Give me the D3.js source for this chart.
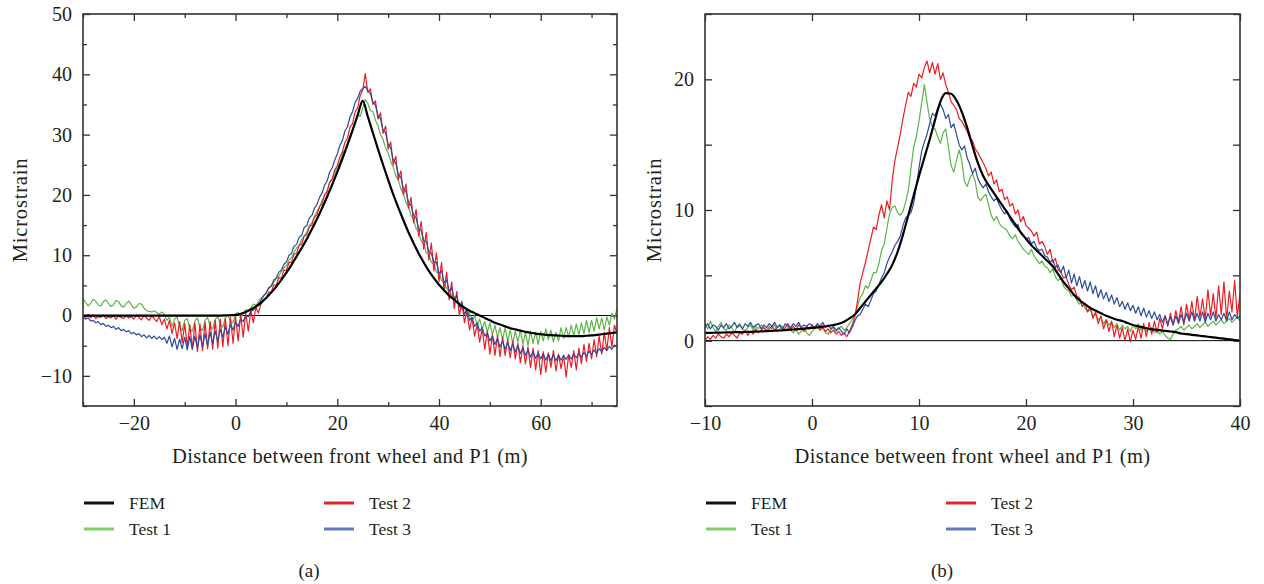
<!DOCTYPE html>
<html>
<head>
<meta charset="utf-8">
<script src="https://cdn.jsdelivr.net/npm/d3@7"></script>
<style>
  body { margin: 0; background: #fff; }
  svg text { font-family: "Liberation Serif", "DejaVu Serif", serif; fill: #231f20; }
</style>
</head>
<body>
<div id="chart"></div>
<script>
// panel (a): FEM sampled every 1 m from -30, tests every 0.5 m from -30
const femA = [
  0, 0, 0, 0, 0, 0, 0, 0, 0, 0,
  0, 0, 0, 0, 0, 0, 0, 0, 0, 0,
  0, 0, 0, 0, 0, 0, 0, 0, 0.02, 0.05,
  0.1, 0.3, 0.6, 1.0, 1.5, 2.1, 2.9, 3.8, 4.8, 5.9,
  7.1, 8.4, 9.8, 11.2, 12.7, 14.3, 16.0, 17.8, 19.7, 21.7,
  23.8, 26.0, 28.3, 30.7, 33.2, 35.6, 33.0, 30.3, 27.6, 25.0,
  22.5, 20.1, 17.9, 15.8, 13.8, 12.0, 10.3, 8.8, 7.4, 6.2,
  5.1, 4.2, 3.3, 2.6, 1.9, 1.3, 0.8, 0.4, 0.0, -0.4,
  -0.8, -1.2, -1.5, -1.8, -2.1, -2.3, -2.5, -2.7, -2.85, -3.0,
  -3.1, -3.2, -3.25, -3.3, -3.35, -3.4, -3.4, -3.4, -3.4, -3.35,
  -3.3, -3.2, -3.1, -3.0, -2.9, -2.8
];
const test1A = [
  2.8, 2.2, 1.6, 2.0, 2.7, 2.4, 1.7, 1.6, 2.3, 2.6,
  2.0, 1.5, 1.8, 2.5, 2.3, 1.6, 1.4, 2.0, 2.4, 1.8,
  1.2, 1.4, 2.0, 1.9, 1.2, 0.8, 0.7, 0.6, 0.8, 0.5,
  0.2, 0.6, 0.1, -0.8, -0.3, -1.8, -0.6, -0.2, -1.9, -2.5,
  -0.8, -0.5, -2.2, -2.6, -0.9, -0.4, -2.0, -2.5, -0.8, -0.3,
  -1.8, -2.2, -0.6, -0.2, -1.5, -1.9, -0.3, 0.1, -1.0, -1.2,
  0.2, 0.5, -0.3, 0.3, 1.0, 0.8, 1.3, 1.9, 1.7, 2.3,
  2.9, 3.2, 3.8, 4.5, 4.8, 5.5, 6.2, 6.5, 7.3, 7.9,
  8.3, 9.2, 9.6, 10.5, 11.2, 11.6, 12.6, 13.2, 13.8, 14.9,
  15.4, 16.4, 17.3, 17.9, 19.1, 19.9, 20.7, 22.0, 22.6, 23.6,
  24.7, 25.3, 26.8, 27.5, 28.4, 29.8, 30.9, 32.0, 33.5, 33.0,
  34.4, 35.8, 35.2, 34.0, 33.8, 32.4, 31.5, 30.0, 29.2, 27.8,
  27.0, 25.6, 24.6, 23.2, 22.4, 21.0, 20.2, 18.8, 18.0, 16.6,
  15.9, 14.4, 13.8, 12.3, 11.9, 10.4, 10.1, 8.8, 8.5, 7.2,
  7.0, 5.8, 5.6, 4.4, 4.3, 3.2, 3.2, 2.1, 2.2, 1.0,
  1.4, 0.0, 0.6, -1.0, 0.0, -1.6, -0.6, -2.2, -1.0, -2.8,
  -1.2, -3.2, -1.6, -3.6, -2.0, -4.0, -2.0, -4.2, -2.4, -4.6,
  -2.6, -4.4, -2.4, -4.8, -2.8, -5.0, -2.6, -4.6, -2.8, -4.8,
  -2.6, -4.2, -2.2, -4.0, -2.4, -4.4, -2.8, -4.2, -2.0, -3.8,
  -2.0, -3.6, -1.6, -3.4, -1.4, -3.2, -1.2, -3.0, -0.8, -2.8,
  -0.8, -2.6, -0.4, -2.2, -0.4, -2.4, -0.2, -1.6, 0.4, -0.6,
  1.2
];
const test2A = [
  0.0, -0.3, 0.2, -0.4, 0.1, -0.5, -0.2, -0.3, 0.1, -0.5,
  -0.2, -0.4, 0.0, -0.6, -0.1, -0.3, -0.5, 0.0, -0.4, -0.2,
  -0.6, 0.1, -0.3, -0.7, 0.0, -0.4, -0.8, -0.1, -0.5, -1.0,
  -0.2, -1.5, -0.6, -2.2, -0.8, -3.0, -1.2, -3.8, -1.0, -4.5,
  -1.3, -5.2, -1.5, -5.6, -1.2, -6.0, -1.4, -5.8, -1.1, -5.5,
  -1.0, -5.6, -0.8, -5.4, -0.6, -5.2, -0.5, -5.0, -0.3, -4.6,
  -0.2, -4.2, 0.2, -3.6, 0.5, -2.6, 0.9, -1.2, 1.4, 0.4,
  2.0, 2.7, 2.8, 3.9, 3.8, 5.1, 5.0, 6.3, 6.2, 7.5,
  7.5, 8.8, 8.8, 10.2, 10.3, 11.7, 11.8, 13.2, 13.4, 14.7,
  15.0, 16.3, 16.7, 18.1, 18.5, 20.0, 20.5, 22.1, 22.6, 24.2,
  24.8, 26.3, 27.1, 28.7, 29.4, 31.3, 31.8, 33.8, 34.4, 36.5,
  37.4, 40.1, 37.0, 37.6, 35.0, 35.6, 32.6, 33.6, 30.2, 31.4,
  27.6, 28.8, 25.0, 26.4, 22.5, 24.0, 20.0, 21.8, 17.8, 19.6,
  15.4, 17.6, 13.2, 15.6, 11.0, 13.8, 9.2, 12.0, 7.4, 10.4,
  5.6, 8.8, 4.0, 7.2, 2.6, 5.6, 1.2, 4.0, 0.0, 2.4,
  -1.2, 0.8, -2.4, -0.4, -3.4, -1.6, -4.4, -2.2, -5.6, -2.6,
  -6.4, -3.2, -6.6, -3.4, -6.8, -3.6, -6.6, -4.0, -7.0, -4.2,
  -7.2, -4.6, -7.8, -5.0, -8.0, -5.2, -8.6, -5.4, -9.0, -5.8,
  -9.8, -6.0, -9.4, -6.2, -8.6, -5.8, -9.2, -6.4, -8.8, -6.6,
  -10.2, -6.5, -8.6, -5.8, -9.0, -5.4, -8.0, -4.8, -7.6, -4.6,
  -7.2, -4.0, -6.8, -3.4, -6.4, -2.8, -5.8, -2.0, -5.2, -1.6,
  -3.0
];
const test3A = [
  -0.2, -0.6, -0.4, -0.9, -0.8, -1.2, -1.0, -1.5, -1.3, -1.8,
  -1.6, -2.0, -1.8, -2.3, -2.0, -2.5, -2.3, -2.7, -2.5, -3.0,
  -2.8, -3.2, -3.0, -3.5, -3.2, -3.7, -3.3, -3.8, -3.4, -3.9,
  -3.5, -4.0, -3.6, -4.6, -3.4, -5.2, -3.8, -5.6, -3.9, -5.5,
  -3.6, -5.7, -3.5, -5.6, -3.4, -5.4, -3.2, -5.3, -3.0, -5.0,
  -2.8, -4.7, -2.6, -4.2, -2.3, -3.6, -1.9, -3.1, -1.5, -2.4,
  -1.1, -1.8, -0.6, -1.0, 0.0, -0.2, 0.7, 0.9, 1.5, 1.9,
  2.5, 3.3, 3.7, 4.6, 4.9, 5.9, 6.2, 7.2, 7.5, 8.5,
  8.9, 10.0, 10.3, 11.5, 11.8, 13.0, 13.3, 14.6, 14.9, 16.2,
  16.6, 17.8, 18.4, 19.6, 20.3, 21.6, 22.3, 23.8, 24.5, 25.8,
  26.8, 28.2, 29.0, 30.6, 31.3, 32.9, 33.8, 35.3, 36.0, 37.2,
  37.6, 38.0, 37.3, 36.8, 35.4, 34.9, 33.2, 32.6, 30.8, 30.3,
  28.4, 27.8, 25.8, 25.3, 23.4, 22.9, 21.0, 20.6, 18.8, 18.3,
  16.6, 16.2, 14.4, 14.1, 12.4, 12.3, 10.6, 10.3, 8.8, 8.8,
  7.0, 7.4, 5.4, 5.9, 4.0, 4.6, 2.6, 3.3, 1.4, 2.1,
  0.2, 1.0, -0.8, -0.3, -1.8, -1.2, -2.6, -2.0, -3.4, -2.9,
  -4.2, -3.4, -4.8, -3.8, -5.2, -4.2, -5.6, -4.5, -5.8, -4.8,
  -6.0, -5.0, -6.3, -5.4, -6.6, -5.7, -6.9, -6.0, -7.1, -6.2,
  -7.2, -6.3, -7.4, -6.4, -7.5, -6.5, -7.5, -6.6, -7.4, -6.6,
  -7.3, -6.5, -7.2, -6.4, -7.0, -6.3, -6.9, -6.1, -6.7, -5.9,
  -6.5, -5.7, -6.3, -5.5, -6.0, -5.3, -5.8, -5.1, -5.6, -4.9,
  -5.2
];

// panel (b): FEM every 0.5 m from -10, tests every 0.25 m from -10
const femB = [
  0.6, 0.6, 0.61, 0.62, 0.63, 0.64, 0.65, 0.66, 0.67, 0.69,
  0.7, 0.72, 0.74, 0.76, 0.78, 0.81, 0.84, 0.87, 0.9, 0.94,
  0.98, 1.02, 1.07, 1.12, 1.2, 1.3, 1.45, 1.7, 2.0, 2.5,
  3.0, 3.5, 4.0, 4.5, 5.1, 5.8, 6.8, 8.1, 9.6, 11.1,
  12.6, 14.0, 15.4, 16.9, 18.3, 18.95, 18.9, 18.4, 17.5, 16.3,
  14.9, 13.6, 12.6, 11.9, 11.3, 10.7, 10.1, 9.5, 8.9, 8.3,
  7.8, 7.3, 6.9, 6.5, 6.1, 5.7, 5.1, 4.5, 4.0, 3.5,
  3.1, 2.8, 2.5, 2.3, 2.1, 1.9, 1.75, 1.6, 1.5, 1.35,
  1.2, 1.1, 1.0, 0.9, 0.85, 0.8, 0.75, 0.7, 0.65, 0.55,
  0.5, 0.45, 0.4, 0.35, 0.3, 0.25, 0.2, 0.15, 0.1, 0.05,
  0.0
];
const test1B = [
  1.3, 0.9, 1.5, 1.0, 0.7, 1.1, 1.4, 0.9,
  0.8, 1.2, 1.0, 0.6, 1.1, 1.3, 0.9, 0.7,
  1.0, 1.2, 0.8, 1.1, 0.9, 1.2, 1.0, 0.8,
  1.1, 0.9, 1.2, 0.7, 0.9, 1.1, 0.8, 1.0,
  0.8, 0.6, 0.9, 0.5, 0.7, 1.0, 0.6, 0.4,
  0.7, 1.0, 1.2, 0.9, 1.1, 0.6, 0.5, 0.8,
  1.0, 0.7, 0.9, 1.1, 0.8, 1.0, 1.3, 1.6,
  1.9, 2.6, 3.3, 3.6, 4.2, 4.0, 4.6, 5.2,
  5.2, 5.9, 6.9, 7.4, 8.6, 9.7, 10.2, 10.3,
  9.8, 9.6, 9.9, 10.6, 11.5, 13.2, 14.8, 15.6,
  16.8, 18.2, 19.6, 18.2, 17.0, 16.4, 16.2, 15.6,
  15.1, 15.9, 16.2, 14.8, 13.4, 12.9, 13.8, 14.6,
  13.8, 12.2, 11.8, 12.4, 12.8, 12.2, 11.0, 10.7,
  11.0, 11.2, 10.4, 9.6, 9.2, 9.5, 9.0, 8.7,
  8.6, 8.4, 8.0, 7.8, 8.1, 7.6, 7.3, 7.0,
  6.8, 6.6, 7.0, 6.5, 6.2, 5.9, 6.1, 5.7,
  5.6, 5.2, 5.5, 4.9, 4.6, 4.8, 4.2, 3.9,
  3.8, 3.4, 3.5, 3.1, 2.8, 3.0, 2.5, 2.2,
  2.4, 1.9, 2.0, 1.6, 1.8, 1.3, 1.6, 1.2,
  1.4, 1.0, 1.3, 0.8, 1.2, 0.9, 1.1, 0.7,
  1.2, 0.9, 1.3, 0.8, 1.1, 0.7, 0.9, 1.0,
  0.6, 0.8, 0.5, 0.7, 0.4, 0.2, 0.1, 0.5,
  0.8, 0.9, 1.1, 0.8, 1.0, 1.2, 0.9, 1.1,
  1.3, 1.0, 1.2, 1.4, 1.1, 1.3, 1.5, 1.2,
  1.4, 1.6, 1.3, 1.5, 1.7, 1.4, 1.6, 1.8,
  1.5
];
const test2B = [
  0.0, 0.3, 0.1, 0.4, 0.2, 0.5, 0.3, 0.2,
  0.5, 0.3, 0.6, 0.4, 0.2, 0.6, 0.5, 0.8,
  0.4, 0.7, 0.5, 0.9, 0.6, 0.8, 1.0, 0.7,
  0.9, 1.1, 0.8, 1.0, 1.2, 0.8, 1.0, 1.3,
  0.9, 1.1, 0.8, 1.2, 1.0, 0.7, 1.1, 0.9,
  1.2, 0.9, 1.1, 0.8, 1.0, 0.7, 0.9, 0.6,
  0.8, 0.5, 0.7, 0.4, 0.6, 0.3, 0.7, 1.2,
  1.8, 3.0, 4.4, 5.2, 6.0, 6.9, 7.8, 8.7,
  8.5, 9.6, 10.4, 9.4, 10.7, 10.0, 12.3, 13.8,
  14.8, 15.8, 17.0, 18.0, 19.0, 18.7, 19.7, 19.4,
  20.4, 20.1, 20.9, 21.4, 20.5, 21.3, 20.4, 21.2,
  20.0, 20.5, 19.6, 19.0, 18.3, 18.0, 17.7, 17.0,
  16.8, 16.4, 16.0, 15.5, 15.3, 14.7, 14.4, 14.0,
  13.6, 13.2, 12.6, 12.9, 12.0, 12.3, 11.4, 11.6,
  10.8, 11.0, 10.3, 10.5, 9.7, 10.0, 9.1, 9.5,
  8.8, 8.6, 8.4, 8.0, 8.3, 7.4, 7.6, 7.2,
  6.6, 7.0, 6.0, 6.3, 5.4, 5.3, 4.8, 4.9,
  4.3, 3.9, 4.1, 3.4, 3.3, 2.6, 2.9, 2.2,
  2.6, 1.7, 2.2, 1.3, 1.9, 0.9, 1.6, 0.7,
  1.5, 0.3, 1.2, 0.2, 1.0, 0.0, 0.9, -0.1,
  0.8, 0.1, 1.1, 0.2, 1.3, 0.3, 1.4, 0.5,
  1.5, 0.6, 1.7, 0.9, 1.9, 1.1, 2.1, 1.2,
  2.3, 1.4, 2.6, 1.2, 2.8, 1.6, 3.0, 1.5,
  3.4, 1.8, 3.2, 1.6, 3.9, 1.9, 3.6, 1.7,
  4.2, 2.0, 4.5, 1.6, 3.8, 2.2, 4.6, 1.8,
  3.6
];
const test3B = [
  1.0, 1.3, 0.9, 1.2, 1.1, 0.8, 1.2, 1.0,
  1.3, 0.9, 1.1, 1.4, 1.0, 1.2, 0.9, 1.3,
  1.1, 1.4, 1.0, 1.2, 1.3, 0.9, 1.2, 1.0,
  1.3, 1.1, 1.4, 1.0, 1.2, 0.9, 1.3, 1.1,
  1.0, 1.3, 1.1, 1.4, 1.0, 1.2, 1.1, 1.3,
  1.2, 1.0, 1.3, 1.1, 1.4, 1.0, 1.2, 0.9,
  1.1, 0.8, 1.0, 0.7, 0.5, 0.9, 0.6, 1.0,
  1.5, 1.9, 2.0, 2.4, 2.8, 2.6, 3.1, 3.6,
  3.8, 4.3, 4.8, 5.2, 5.9, 6.4, 6.8, 7.3,
  7.6, 8.0, 8.8, 9.4, 9.6, 9.8, 10.5, 11.8,
  13.2, 14.5, 15.2, 15.8, 16.6, 17.4, 17.2, 17.8,
  18.1, 17.7, 17.0, 17.3, 16.3, 16.6, 15.8, 15.0,
  14.6, 14.9, 14.0, 13.5, 12.8, 13.2, 12.4, 12.0,
  11.7, 12.0, 11.4, 11.0, 10.7, 10.9, 10.4, 10.0,
  9.7, 9.9, 9.3, 9.0, 8.7, 8.9, 8.2, 8.0,
  7.8, 7.9, 7.4, 7.6, 7.1, 6.9, 7.0, 6.5,
  6.4, 6.0, 6.2, 5.6, 5.8, 5.2, 5.7, 4.8,
  5.4, 4.4, 5.1, 4.2, 4.9, 4.0, 4.6, 3.8,
  4.5, 3.6, 4.2, 3.3, 3.9, 3.2, 3.7, 3.0,
  3.5, 2.8, 3.3, 2.6, 3.0, 2.4, 2.9, 2.3,
  2.7, 2.1, 2.6, 1.9, 2.5, 1.8, 2.3, 1.7,
  2.2, 1.6, 2.0, 1.4, 1.9, 1.3, 1.8, 1.2,
  1.9, 1.3, 2.0, 1.4, 2.1, 1.5, 2.2, 1.5,
  2.1, 1.5, 2.2, 1.4, 2.1, 1.6, 2.2, 1.5,
  2.0, 1.6, 2.1, 1.5, 2.2, 1.6, 2.0, 1.7,
  1.9
];

const seriesNames = ['FEM', 'Test 1', 'Test 2', 'Test 3'];
const xLabelsA = [-20, 0, 20, 40, 60];
const xTicksA = [-30, -20, -10, 0, 10, 20, 30, 40, 50, 60, 70];
const yLabelsA = [-10, 0, 10, 20, 30, 40, 50];
const yTicksA = d3.range(-15, 51, 5);
const xLabelsB = [-10, 0, 10, 20, 30, 40];
const yLabelsB = [0, 10, 20];
const yTicksB = [-5, 0, 5, 10, 15, 20, 25];

const colors = { 'FEM': '#000', 'Test 1': '#5cb646', 'Test 2': '#ed1c24', 'Test 3': '#2c4b9d' };
const legendColors = { 'FEM': '#111', 'Test 1': '#86cc6c', 'Test 2': '#e5252c', 'Test 3': '#6379bb' };
const frameColor = '#333';

const svg = d3.select('#chart').append('svg')
  .attr('width', 1264)
  .attr('height', 584);

svg.append('rect').attr('width', 1264).attr('height', 584).attr('fill', '#fff');

function styleAxis(g) {
  g.attr('font-size', null).attr('font-family', null);
  g.select('.domain').remove();
  g.selectAll('line').attr('stroke', frameColor).attr('stroke-width', 1.3);
  g.selectAll('text').style('font-size', '20px');
}

function drawPanel(p) {
  const x = d3.scaleLinear().domain(p.xDomain).range([p.left, p.right]);
  const y = d3.scaleLinear().domain(p.yDomain).range([p.bottom, p.top]);
  const g = svg.append('g');

  // ticks inside the frame, minor first then major with labels
  const minorX = p.xTicks.filter(v => !p.xLabels.includes(v));
  const minorY = p.yTicks.filter(v => !p.yLabels.includes(v));

  g.append('g').attr('transform', 'translate(0,' + p.bottom + ')')
    .call(d3.axisBottom(x).tickValues(minorX).tickSizeInner(-p.minorLen).tickSizeOuter(0).tickFormat(''))
    .call(styleAxis);
  g.append('g').attr('transform', 'translate(0,' + p.bottom + ')')
    .call(d3.axisBottom(x).tickValues(p.xLabels).tickSizeInner(-p.majorLen).tickSizeOuter(0).tickPadding(10))
    .call(styleAxis);
  g.append('g').attr('transform', 'translate(0,' + p.top + ')')
    .call(d3.axisTop(x).tickValues(minorX).tickSizeInner(-p.minorLen).tickSizeOuter(0).tickFormat(''))
    .call(styleAxis);
  g.append('g').attr('transform', 'translate(0,' + p.top + ')')
    .call(d3.axisTop(x).tickValues(p.xLabels).tickSizeInner(-p.majorLen).tickSizeOuter(0).tickFormat(''))
    .call(styleAxis);

  g.append('g').attr('transform', 'translate(' + p.left + ',0)')
    .call(d3.axisLeft(y).tickValues(minorY).tickSizeInner(-p.minorLenY).tickSizeOuter(0).tickFormat(''))
    .call(styleAxis);
  g.append('g').attr('transform', 'translate(' + p.left + ',0)')
    .call(d3.axisLeft(y).tickValues(p.yLabels).tickSizeInner(-p.majorLen).tickSizeOuter(0).tickPadding(11))
    .call(styleAxis);
  g.append('g').attr('transform', 'translate(' + p.right + ',0)')
    .call(d3.axisRight(y).tickValues(minorY).tickSizeInner(-p.minorLenY).tickSizeOuter(0).tickFormat(''))
    .call(styleAxis);
  g.append('g').attr('transform', 'translate(' + p.right + ',0)')
    .call(d3.axisRight(y).tickValues(p.yLabels).tickSizeInner(-p.majorLen).tickSizeOuter(0).tickFormat(''))
    .call(styleAxis);

  const clipId = 'clip-' + p.id;
  svg.append('clipPath').attr('id', clipId)
    .append('rect')
    .attr('x', p.left).attr('y', p.top)
    .attr('width', p.right - p.left).attr('height', p.bottom - p.top);

  const plot = g.append('g').attr('clip-path', 'url(#' + clipId + ')');

  // zero reference line
  plot.append('line')
    .attr('x1', p.left).attr('x2', p.right)
    .attr('y1', y(0)).attr('y2', y(0))
    .attr('stroke', '#000').attr('stroke-width', 1);

  p.series.forEach(s => {
    const line = d3.line()
      .x((d, i) => x(s.start + i * s.step))
      .y(d => y(d));
    if (s.name === 'FEM') line.curve(d3.curveMonotoneX);
    plot.append('path')
      .datum(s.values)
      .attr('fill', 'none')
      .attr('stroke', colors[s.name])
      .attr('stroke-width', s.name === 'FEM' ? 2.2 : 1.2)
      .attr('stroke-linejoin', 'round')
      .attr('d', line);
  });

  g.append('rect')
    .attr('x', p.left).attr('y', p.top)
    .attr('width', p.right - p.left).attr('height', p.bottom - p.top)
    .attr('fill', 'none')
    .attr('stroke', frameColor)
    .attr('stroke-width', 1.6);

  // axis titles
  g.append('text')
    .attr('x', (p.left + p.right) / 2).attr('y', 463)
    .attr('text-anchor', 'middle')
    .style('font-size', '20.5px')
    .style('letter-spacing', '0.4px')
    .text('Distance between front wheel and P1 (m)');
  g.append('text')
    .attr('transform', 'translate(' + p.yTitleX + ',' + ((p.top + p.bottom) / 2) + ') rotate(-90)')
    .attr('text-anchor', 'middle')
    .style('font-size', '20.5px')
    .style('letter-spacing', '0.8px')
    .text('Microstrain');

  // legend, two columns
  const legend = g.append('g');
  seriesNames.forEach((name, i) => {
    const col = i === 0 || i === 1 ? 0 : 1;
    const row = i === 0 || i === 2 ? 0 : 1;
    const lx = p.left + 1 + col * 240;
    const ly = 503 + row * 26;
    legend.append('line')
      .attr('x1', lx).attr('x2', lx + 30)
      .attr('y1', ly).attr('y2', ly)
      .attr('stroke', legendColors[name])
      .attr('stroke-width', 3);
    legend.append('text')
      .attr('x', lx + 45).attr('y', ly + 6)
      .style('font-size', '17.5px')
      .text(name);
  });

  g.append('text')
    .attr('x', p.captionX).attr('y', 577)
    .attr('text-anchor', 'middle')
    .style('font-size', '19px')
    .text(p.caption);
}

drawPanel({
  id: 'a', left: 83, right: 617, top: 14, bottom: 406,
  xDomain: [-30, 75], yDomain: [-15, 50],
  xLabels: xLabelsA, xTicks: xTicksA, yLabels: yLabelsA, yTicks: yTicksA,
  majorLen: 7, minorLen: 4, minorLenY: 4,
  yTitleX: 27, captionX: 309, caption: '(a)',
  series: [
    { name: 'Test 1', values: test1A, start: -30, step: 0.5 },
    { name: 'Test 2', values: test2A, start: -30, step: 0.5 },
    { name: 'Test 3', values: test3A, start: -30, step: 0.5 },
    { name: 'FEM', values: femA, start: -30, step: 1 }
  ]
});

drawPanel({
  id: 'b', left: 705, right: 1240, top: 14, bottom: 406,
  xDomain: [-10, 40], yDomain: [-5, 25],
  xLabels: xLabelsB, xTicks: xLabelsB, yLabels: yLabelsB, yTicks: yTicksB,
  majorLen: 7, minorLen: 4, minorLenY: 7,
  yTitleX: 661, captionX: 942, caption: '(b)',
  series: [
    { name: 'Test 1', values: test1B, start: -10, step: 0.25 },
    { name: 'Test 2', values: test2B, start: -10, step: 0.25 },
    { name: 'Test 3', values: test3B, start: -10, step: 0.25 },
    { name: 'FEM', values: femB, start: -10, step: 0.5 }
  ]
});
</script>
</body>
</html>
